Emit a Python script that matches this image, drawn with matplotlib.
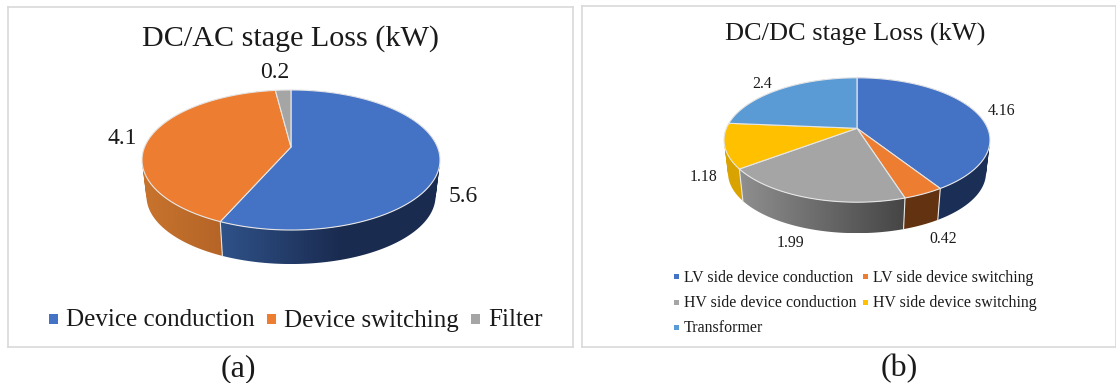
import numpy as np
import matplotlib
matplotlib.use("Agg")
import matplotlib.pyplot as plt
from matplotlib.colors import LinearSegmentedColormap
from matplotlib.patches import PathPatch, Polygon, Rectangle
from matplotlib.path import Path

plt.rcParams["font.family"] = ["Liberation Serif", "DejaVu Serif"]

# Loss breakdown of the DC/AC stage
ac_labels = ["Device conduction", "Device switching", "Filter"]
ac_values = [5.6, 4.1, 0.2]
ac_value_text = ["5.6", "4.1", "0.2"]

# Loss breakdown of the DC/DC stage
dc_labels = ["LV side device conduction", "LV side device switching",
             "HV side device conduction", "HV side device switching",
             "Transformer"]
dc_values = [4.16, 0.42, 1.99, 1.18, 2.4]
dc_value_text = ["4.16", "0.42", "1.99", "1.18", "2.4"]

BLUE, ORANGE, GREY, YELLOW, SKY = "#4472c4", "#ed7d31", "#a5a5a5", "#ffc000", "#5b9bd5"
FRAME = "#d9d9d9"
EDGE = "#e6e6e6"
TEXT = "#1a1a1a"

W, H = 1116, 383
fig = plt.figure(figsize=(W / 100, H / 100), dpi=100, facecolor="white")


def panel(x0, x1, y0, y1):
    """Axes whose data units are figure pixels, framed by its spines."""
    ax = fig.add_axes([x0 / W, 1 - y1 / H, (x1 - x0) / W, (y1 - y0) / H])
    ax.set_xlim(x0, x1)
    ax.set_ylim(y1, y0)
    ax.set_xticks([])
    ax.set_yticks([])
    for s in ax.spines.values():
        s.set_color(FRAME)
        s.set_linewidth(1.2)
    return ax


def rim(theta, cx, cy, a, b, k, scale=1.0, drop=0.0):
    """Perspective projection of a circle point, clockwise from twelve o'clock."""
    u, v = np.sin(theta), -np.cos(theta)
    w = 1 - k * v
    return cx + scale * a * u / w, cy + scale * b * v / w + drop


def wall_path(xt, yt, xb, yb):
    """Union of thin quads between the upper and lower rims, all wound the same way."""
    parts = []
    for j in range(len(xt) - 1):
        q = np.array([[xt[j], yt[j]], [xt[j + 1], yt[j + 1]],
                      [xb[j + 1], yb[j + 1]], [xb[j], yb[j]]])
        x, y = q[:, 0], q[:, 1]
        if np.dot(x, np.roll(y, -1)) - np.dot(y, np.roll(x, -1)) < 0:
            q = q[::-1]
        parts.append(Path(np.r_[q, q[:1]], closed=True))
    return Path.make_compound_path(*parts)


def pie3d(ax, values, colors, shades, cx, cy, a, b, k, scale, drop):
    fractions = np.asarray(values, float) / np.sum(values)
    edges = np.concatenate([[0], np.cumsum(fractions)]) * 2 * np.pi
    xlim, ylim = ax.get_xlim(), ax.get_ylim()

    # Side walls first, each with its horizontal shading
    for i, stops in enumerate(shades):
        t = np.linspace(edges[i], edges[i + 1], 181)
        xt, yt = rim(t, cx, cy, a, b, k)
        xb, yb = rim(t, cx, cy, a, b, k, scale, drop)
        clip = PathPatch(wall_path(xt, yt, xb, yb), transform=ax.transData, fc="none", ec="none")
        ax.add_patch(clip)
        xs, ys = np.r_[xt, xb], np.r_[yt, yb]
        cmap = LinearSegmentedColormap.from_list("wall", stops)
        im = ax.imshow(np.linspace(0, 1, 256)[None, :], cmap=cmap, aspect="auto",
                       extent=[xs.min(), xs.max(), ys.max(), ys.min()],
                       interpolation="bilinear", zorder=1)
        im.set_clip_path(clip)

    # Seams between neighbouring walls
    for e in edges[:-1]:
        if -np.cos(e) > 0:
            x1, y1 = rim(e, cx, cy, a, b, k)
            x2, y2 = rim(e, cx, cy, a, b, k, scale, drop)
            ax.plot([x1, x2], [y1, y2], color=EDGE, lw=0.8, zorder=2)

    # Top faces
    for i, c in enumerate(colors):
        t = np.linspace(edges[i], edges[i + 1], 200)
        xt, yt = rim(t, cx, cy, a, b, k)
        ax.add_patch(Polygon(np.r_[[[cx, cy]], np.c_[xt, yt]], closed=True, fc=c,
                             ec=EDGE, lw=0.8, joinstyle="round", zorder=3))
    ax.set_xlim(xlim)
    ax.set_ylim(ylim)


def legend_entry(ax, x, y, size, color, label, fs, gap, baseline):
    ax.add_patch(Rectangle((x, y - size / 2), size, size, fc=color, ec="none"))
    ax.text(x + size + gap, y + baseline, label, fontsize=fs, va="baseline", ha="left", color=TEXT)


# Left panel
ax1 = panel(8, 573, 7, 347)
ax1.text(291, 38.5, "DC/AC stage Loss (kW)", fontsize=21.7, ha="center", va="center", color=TEXT)
pie3d(ax1, ac_values, [BLUE, ORANGE, GREY],
      [[(0, "#2f5289"), (0.55, "#1a2b50"), (1, "#1a2b50")],
       ["#c8742e", "#a85a22"], ["#7a7a7a", "#7a7a7a"]],
      291, 147, 146.4, 67.6, 0.1858, 0.97, 36.5)
for txt, (x, y) in zip(ac_value_text, [(463, 196), (122, 138), (275, 73)]):
    ax1.text(x, y, txt, fontsize=17, ha="center", va="center", color=TEXT)
for lab, c, x in zip(ac_labels, [BLUE, ORANGE, GREY], [49, 267, 471]):
    legend_entry(ax1, x, 319, 9.3, c, lab, 18, 8, 7.5)

# Right panel
ax2 = panel(582, 1116, 6, 347)
ax2.text(855, 34, "DC/DC stage Loss (kW)", fontsize=19, ha="center", va="center", color=TEXT)
pie3d(ax2, dc_values, [BLUE, ORANGE, GREY, YELLOW, SKY],
      [["#1b2f56", "#1b2f56"], ["#633311", "#633311"], ["#8f8f8f", "#454545"],
       ["#d9a300", "#d9a300"], ["#3f78ab", "#3f78ab"]],
      857, 128.3, 130.6, 60, 0.188, 0.97, 33.2)
for txt, (x, y) in zip(dc_value_text, [(1002, 111), (943, 239), (790, 243), (703, 177), (762, 84)]):
    ax2.text(x, y, txt, fontsize=11.3, ha="center", va="center", color=TEXT)
slots = [(674, 276.5), (863, 276.5), (674, 302), (863, 302), (674, 327)]
for lab, c, (x, y) in zip(dc_labels, [BLUE, ORANGE, GREY, YELLOW, SKY], slots):
    legend_entry(ax2, x, y, 5, c, lab, 11.4, 5, 5)

# Sub-figure captions
fig.text(238 / W, 1 - 369 / H, "(a)", fontsize=23, ha="center", va="center", color=TEXT)
fig.text(899 / W, 1 - 369 / H, "(b)", fontsize=23, ha="center", va="center", color=TEXT)

fig.savefig("out.png", dpi=100)
